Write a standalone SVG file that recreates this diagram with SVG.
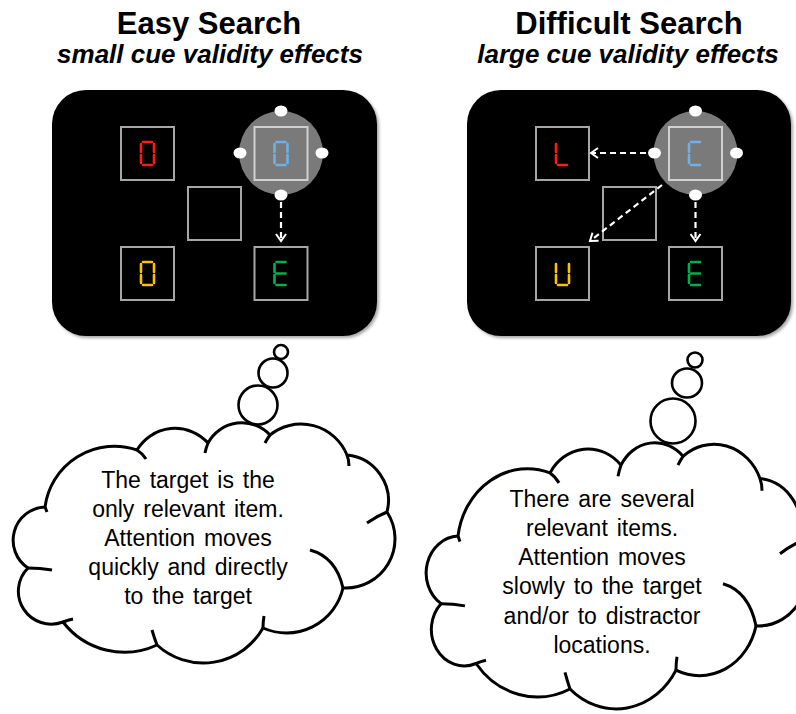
<svg xmlns="http://www.w3.org/2000/svg" xmlns:xlink="http://www.w3.org/1999/xlink" width="796" height="714" viewBox="0 0 796 714">
<defs>
<style>
.title{font-family:"Liberation Sans",Arial,sans-serif;font-weight:bold;font-size:31px;text-anchor:middle;fill:#000}
.sub{font-family:"Liberation Sans",Arial,sans-serif;font-weight:bold;font-style:italic;font-size:26px;text-anchor:middle;fill:#000}
.thought{font-family:"Liberation Sans",Arial,sans-serif;font-size:23px;text-anchor:middle;fill:#000;word-spacing:2.5px}
.panel{fill:#000;filter:url(#shadow)}
.box{fill:none;stroke:#a6a6a6;stroke-width:2}
.cuebox{fill:none;stroke:#d0d0d0;stroke-width:2}
.halo{fill:#7a7a7a}
.dot{fill:#fff}
.seg{fill:none;stroke-width:2.6;stroke-linecap:round}
.arrow{fill:none;stroke:#fff;stroke-width:2.2;stroke-dasharray:6 4;marker-end:url(#chev)}
.cloud{fill:#fff;stroke:#000;stroke-width:3;stroke-linejoin:round}
.crease{fill:none;stroke:#000;stroke-width:3}
.bubble{fill:#fff;stroke:#000;stroke-width:2.6}
</style>
<filter id="shadow" x="-10%" y="-10%" width="120%" height="120%">
<feDropShadow dx="2" dy="2" stdDeviation="1.5" flood-color="#000" flood-opacity="0.35"/>
</filter>
<marker id="chev" markerUnits="userSpaceOnUse" markerWidth="12" markerHeight="12" refX="8" refY="6" orient="auto" viewBox="0 0 12 12">
<path d="M1,1 L8,6 L1,11" fill="none" stroke="#fff" stroke-width="2"/>
</marker>
<path id="g0" d="M-4.5,-11.5H4.5M6.5,-9.5V-1.5M6.5,1.5V9.5M4.5,11.5H-4.5M-6.5,9.5V1.5M-6.5,-1.5V-9.5"/>
<path id="gE" d="M-4.5,-11.5H4.5M4.5,11.5H-4.5M-6.5,9.5V1.5M-6.5,-1.5V-9.5M-4.5,0H4.5"/>
<path id="gL" d="M4.5,11.5H-4.5M-6.5,9.5V1.5M-6.5,-1.5V-9.5"/>
<path id="gC" d="M-4.5,-11.5H4.5M4.5,11.5H-4.5M-6.5,9.5V1.5M-6.5,-1.5V-9.5"/>
<path id="gU" d="M6.5,-9.5V-1.5M6.5,1.5V9.5M4.5,11.5H-4.5M-6.5,9.5V1.5M-6.5,-1.5V-9.5"/>
<g id="cloudShape">
<path class="cloud" vector-effect="non-scaling-stroke" d="M45,507 A70,70 0 0 1 137,450 A44.3,44.3 0 0 1 208,443 A38.5,38.5 0 0 1 270,435 A49.6,49.6 0 0 1 347,455 A45.8,45.8 0 0 1 387,512 A49.2,49.2 0 0 1 343,588 A58,58 0 0 1 263,628 A68.5,68.5 0 0 1 157,645 A77.4,77.4 0 0 1 63,622 A32.9,32.9 0 0 1 28,568 A33.3,33.3 0 0 1 45,507 Z"/>
<path class="crease" vector-effect="non-scaling-stroke" d="M45,507 L47,512 M137,450 Q142,453 146,459 M208,443 Q206,448 205,453 M270,435 Q267,439 265,443 M347,455 Q349,460 349,466 M387,512 Q377,516 367,523 M310,550 Q336,557 343,588 M263,628 Q263,622 264,616 M157,645 Q154,637 152,630 M63,622 Q68,620 73,619 M28,568 Q40,568 52,570"/>
</g>
</defs>

<rect width="796" height="714" fill="#fff"/>

<g id="title-easy">
<text class="title" x="209" y="34">Easy Search</text>
<text class="sub" x="210" y="63">small cue validity effects</text>
</g>
<g id="title-difficult">
<text class="title" x="629" y="34">Difficult Search</text>
<text class="sub" x="628" y="63">large cue validity effects</text>
</g>

<g id="panel-easy">
<rect class="panel" x="52" y="90" width="325" height="246" rx="34"/>
<circle class="halo" cx="281" cy="153" r="42"/>
<rect class="box" x="121" y="127" width="53" height="53"/>
<rect class="box" x="188" y="187" width="53" height="53"/>
<rect class="box" x="121" y="247" width="53" height="53"/>
<rect class="cuebox" x="254.5" y="127" width="53" height="53"/>
<rect class="box" x="254.5" y="247" width="53" height="53"/>
<use xlink:href="#g0" x="147.5" y="153.5" class="seg" stroke="#ff1a1a"/>
<use xlink:href="#g0" x="147.5" y="273.5" class="seg" stroke="#ffc000"/>
<use xlink:href="#g0" x="281" y="153.5" class="seg" stroke="#6fb1e6"/>
<use xlink:href="#gE" x="281" y="273.5" class="seg" stroke="#00b050"/>
<ellipse class="dot" cx="281" cy="111" rx="6.5" ry="5.5"/>
<ellipse class="dot" cx="240" cy="153" rx="6.5" ry="5.5"/>
<ellipse class="dot" cx="322" cy="153" rx="6.5" ry="5.5"/>
<ellipse class="dot" cx="281" cy="195" rx="6.5" ry="5.5"/>
</g>

<g id="panel-difficult">
<rect class="panel" x="467" y="90" width="324" height="246" rx="34"/>
<circle class="halo" cx="695.5" cy="153" r="42"/>
<rect class="box" x="536" y="127" width="53" height="53"/>
<rect class="box" x="603" y="187" width="53" height="53"/>
<rect class="box" x="536" y="247" width="53" height="53"/>
<rect class="cuebox" x="669" y="127" width="53" height="53"/>
<rect class="box" x="669" y="247" width="53" height="53"/>
<use xlink:href="#gL" x="562.5" y="153.5" class="seg" stroke="#ff1a1a"/>
<use xlink:href="#gU" x="562.5" y="273.5" class="seg" stroke="#ffc000"/>
<use xlink:href="#gC" x="695.5" y="153.5" class="seg" stroke="#6fb1e6"/>
<use xlink:href="#gE" x="695.5" y="273.5" class="seg" stroke="#00b050"/>
<ellipse class="dot" cx="695.5" cy="111" rx="6.5" ry="5.5"/>
<ellipse class="dot" cx="654.5" cy="153" rx="6.5" ry="5.5"/>
<ellipse class="dot" cx="736.5" cy="153" rx="6.5" ry="5.5"/>
<ellipse class="dot" cx="695.5" cy="195" rx="6.5" ry="5.5"/>
</g>

<g id="connectors">
<line class="arrow" x1="281" y1="202" x2="281" y2="241"/>
<line class="arrow" x1="646" y1="153" x2="591" y2="153"/>
<line class="arrow" x1="662" y1="185" x2="590" y2="241"/>
<line class="arrow" x1="695.5" y1="202" x2="695.5" y2="241"/>
</g>

<g id="cloud-easy">
<use xlink:href="#cloudShape"/>
<circle class="bubble" cx="258" cy="405" r="19.5"/>
<circle class="bubble" cx="273" cy="373" r="14.5"/>
<circle class="bubble" cx="281" cy="352" r="7"/>
<text class="thought" x="188" y="488">The target is the</text>
<text class="thought" x="188" y="517">only relevant item.</text>
<text class="thought" x="188" y="546">Attention moves</text>
<text class="thought" x="188" y="575">quickly and directly</text>
<text class="thought" x="188" y="604">to the target</text>
</g>

<g id="cloud-difficult">
<use xlink:href="#cloudShape" transform="matrix(1 0 0 1.108 413 -25.68)"/>
<circle class="bubble" cx="673" cy="421" r="22.5"/>
<ellipse class="bubble" cx="687" cy="383" rx="15" ry="14.5"/>
<circle class="bubble" cx="695" cy="360" r="7.5"/>
<text class="thought" x="602" y="507">There are several</text>
<text class="thought" x="602" y="536">relevant items.</text>
<text class="thought" x="602" y="565">Attention moves</text>
<text class="thought" x="602" y="594">slowly to the target</text>
<text class="thought" x="602" y="624">and/or to distractor</text>
<text class="thought" x="602" y="653">locations.</text>
</g>
</svg>
